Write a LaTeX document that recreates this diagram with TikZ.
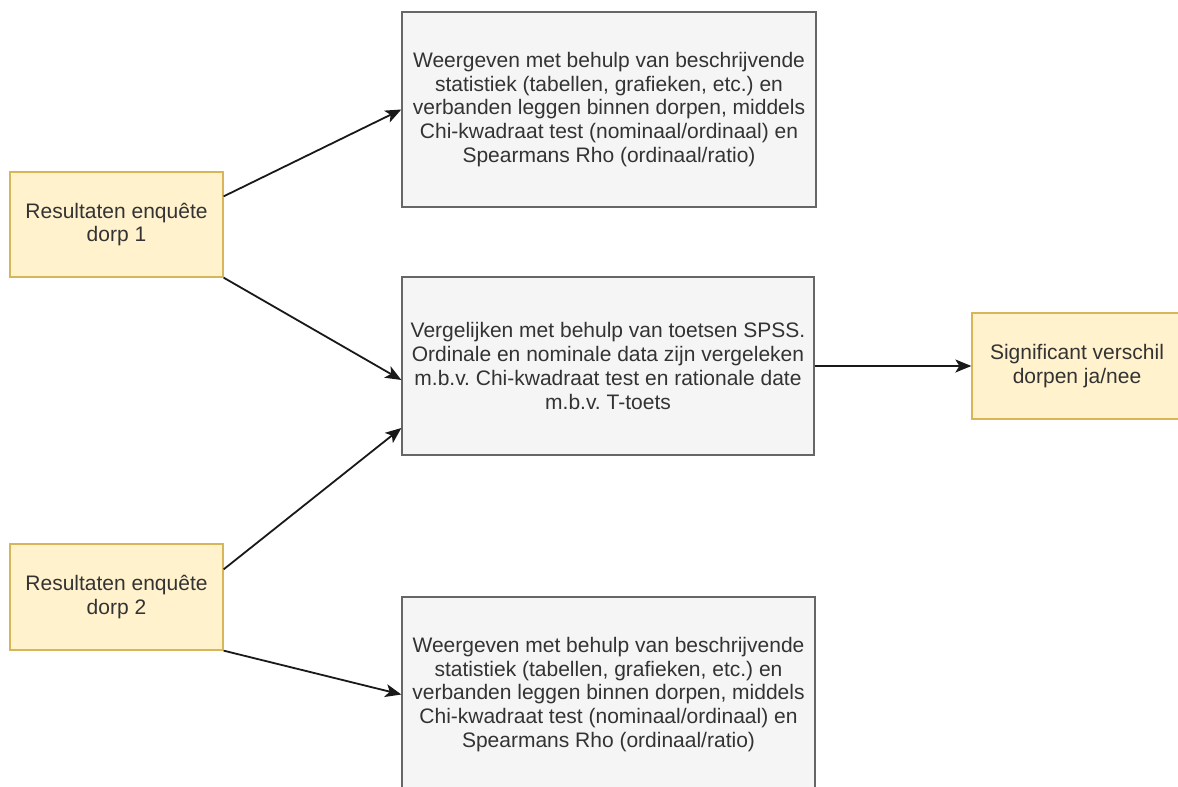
\documentclass[tikz,border=0pt]{standalone}
\usepackage{fontspec}
\setmainfont{Liberation Sans}
\usetikzlibrary{arrows.meta,positioning}
\definecolor{yfill}{HTML}{FFF2CC}
\definecolor{ydraw}{HTML}{D6B656}
\definecolor{gfill}{HTML}{F5F5F5}
\definecolor{gdraw}{HTML}{666666}
\definecolor{txt}{HTML}{333333}
\tikzset{
  base/.style={rectangle, align=center, text=txt, inner sep=0pt, line width=1.3pt,
    font=\fontsize{21}{23.8}\selectfont\frenchspacing},
  yellowbox/.style={base, fill=yfill, draw=ydraw},
  graybox/.style={base, fill=gfill, draw=gdraw},
  conn/.style={line width=1.8pt, draw=black!90, -{Stealth[length=16pt,width=13pt,inset=4pt]}}
}
\begin{document}
\begin{tikzpicture}[x=1pt,y=-1pt]
\useasboundingbox (0,0) rectangle (1178,787);
\clip (0,0) rectangle (1178,787);
\fill[white] (0,0) rectangle (1178,787);
\node[yellowbox, minimum width=213pt, minimum height=105pt] (d1) at (116.5,224.5) {Resultaten enquête\\dorp 1};
\node[yellowbox, minimum width=213pt, minimum height=106pt] (d2) at (116.5,597) {Resultaten enquête\\dorp 2};
\node[graybox, minimum width=414pt, minimum height=195pt] (t) at (609,109.5) {Weergeven met behulp van beschrijvende\\statistiek (tabellen, grafieken, etc.) en\\verbanden leggen binnen dorpen, middels\\Chi-kwadraat test (nominaal/ordinaal) en\\Spearmans Rho (ordinaal/ratio)};
\node[graybox, minimum width=412pt, minimum height=178pt] (m) at (608,366) {Vergelijken met behulp van toetsen SPSS.\\Ordinale en nominale data zijn vergeleken\\m.b.v. Chi-kwadraat test en rationale date\\m.b.v. T-toets};
\node[graybox, minimum width=413pt, minimum height=195pt] (b) at (608.5,694.5) {Weergeven met behulp van beschrijvende\\statistiek (tabellen, grafieken, etc.) en\\verbanden leggen binnen dorpen, middels\\Chi-kwadraat test (nominaal/ordinaal) en\\Spearmans Rho (ordinaal/ratio)};
\node[yellowbox, minimum width=210pt, minimum height=106pt] (s) at (1077,366) {Significant verschil\\dorpen ja/nee};
\draw[conn] ([yshift=-25pt]d1.north east) -- (t.west);
\draw[conn] (d1.south east) -- ([yshift=-14pt]m.west);
\draw[conn] ([yshift=-26pt]d2.north east) -- ([yshift=-62pt]m.west);
\draw[conn] (d2.south east) -- (b.west);
\draw[conn] (m.east) -- (s.west);
\end{tikzpicture}
\end{document}
